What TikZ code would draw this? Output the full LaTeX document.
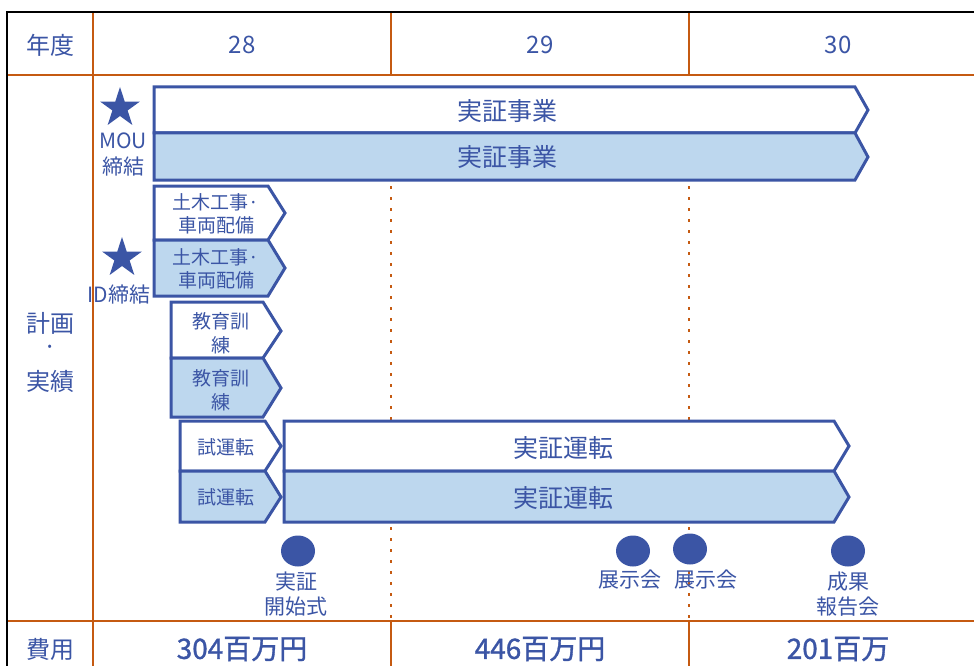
\documentclass[tikz,border=0pt]{standalone}
\usepackage{fontspec}
\setmainfont{Noto Sans CJK JP}
\newfontfamily\costfont[FakeBold=1.2]{Noto Sans CJK JP}
\usetikzlibrary{shapes.geometric}
\definecolor{tblue}{RGB}{59,85,165}
\definecolor{lblue}{RGB}{189,215,238}
\definecolor{torange}{RGB}{197,90,17}
\newcommand{\fsz}[2]{\fontsize{#1}{#2}\selectfont}
\tikzset{
  barw/.style={draw=tblue, line width=3pt, fill=white, line join=miter},
  barb/.style={barw, fill=lblue},
  lbl/.style={text=tblue, inner sep=0pt, align=center},
  gridline/.style={draw=torange, line width=2.5pt},
  dotline/.style={draw=torange, line width=2.5pt, dash pattern=on 2.5pt off 8.5pt},
  mstar/.style={star, star points=5, star point ratio=2.618, fill=tblue, inner sep=0pt, minimum size=42pt},
  evdot/.style={ellipse, fill=tblue, minimum width=34pt, minimum height=31pt, inner sep=0pt},
}
\begin{document}
\begin{tikzpicture}[x=1pt,y=-1pt]
\useasboundingbox (0,0) rectangle (974,666);
% grid
\draw[dotline] (391,186) -- (391,620);
\draw[dotline] (689,186) -- (689,620);
\draw[gridline] (93,12) -- (93,666);
\draw[gridline] (7,75) -- (974,75);
\draw[gridline] (7,621) -- (974,621);
\draw[gridline] (391,12) -- (391,76);
\draw[gridline] (689,12) -- (689,76);
\draw[gridline] (391,620) -- (391,666);
\draw[gridline] (689,620) -- (689,666);
\draw[black, line width=2pt] (7,666) -- (7,12) -- (974,12);
% header
\node[lbl, font=\fsz{24}{28}] (nendo) at (50,45) {年度};
\node[lbl, font=\fsz{24}{28}] (y28) at (242,45) {28};
\node[lbl, font=\fsz{24}{28}] (y29) at (540,45) {29};
\node[lbl, font=\fsz{24}{28}] (y30) at (838,45) {30};
% left column
\node[lbl, font=\fsz{24}{28}] (keikaku) at (50,323) {計画};
\node[lbl, font=\fsz{24}{28}] (nakaguro) at (50,350) {·};
\node[lbl, font=\fsz{24}{28}] (jisseki) at (50,381) {実績};
\node[lbl, font=\fsz{24}{28}] (hiyou) at (50,649) {費用};
% costs
\node[lbl, font=\costfont\fsz{28}{32}] (c28) at (242,649) {304百万円};
\node[lbl, font=\costfont\fsz{28}{32}] (c29) at (540,649) {446百万円};
\node[lbl, font=\costfont\fsz{28}{32}] (c30) at (838,649) {201百万};
% bars
\draw[barw] (154,87) -- (855,87) -- (868,110) -- (855,133) -- (154,133) -- cycle;
\draw[barb] (154,133) -- (855,133) -- (868,157) -- (855,180) -- (154,180) -- cycle;
\node[lbl, font=\fsz{25}{28}] (jigyo1) at (507,111) {実証事業};
\node[lbl, font=\fsz{25}{28}] (jigyo2) at (507,157) {実証事業};
\draw[barw] (154,186) -- (268,186) -- (285,213) -- (268,240) -- (154,240) -- cycle;
\draw[barb] (154,240) -- (268,240) -- (285,268) -- (268,296) -- (154,296) -- cycle;
\node[lbl, font=\fsz{19}{23}] (doboku1) at (216,214) {土木工事·\\車両配備};
\node[lbl, font=\fsz{19}{23}] (doboku2) at (216,269) {土木工事·\\車両配備};
\draw[barw] (171,302) -- (263,302) -- (281,331) -- (263,358) -- (171,358) -- cycle;
\draw[barb] (171,358) -- (263,358) -- (281,388) -- (263,417) -- (171,417) -- cycle;
\node[lbl, font=\fsz{19}{24}] (kyoiku1) at (221,333) {教育訓\\練};
\node[lbl, font=\fsz{19}{24}] (kyoiku2) at (221,390) {教育訓\\練};
\draw[barw] (180,421) -- (265,421) -- (281,446) -- (265,471) -- (180,471) -- cycle;
\draw[barb] (180,471) -- (265,471) -- (281,497) -- (265,522) -- (180,522) -- cycle;
\node[lbl, font=\fsz{19}{23}] (shiunten1) at (226,447) {試運転};
\node[lbl, font=\fsz{19}{23}] (shiunten2) at (226,497) {試運転};
\draw[barw] (284,421) -- (834,421) -- (849,446) -- (834,471) -- (284,471) -- cycle;
\draw[barb] (284,471) -- (834,471) -- (849,497) -- (834,522) -- (284,522) -- cycle;
\node[lbl, font=\fsz{25}{28}] (unten1) at (563,448) {実証運転};
\node[lbl, font=\fsz{25}{28}] (unten2) at (563,498) {実証運転};
% stars
\node[mstar] (star1) at (120,108) {};
\node[lbl, font=\fsz{21}{26}] (mou) at (123,155) {MOU\\締結};
\node[mstar] (star2) at (122,258) {};
\node[lbl, font=\fsz{21}{26}] (id) at (119,295) {ID締結};
% events
\node[evdot] (ev1) at (298,551) {};
\node[lbl, font=\fsz{21}{25}] (ev1l) at (296,594) {実証\\開始式};
\node[evdot] (ev2) at (633,551) {};
\node[lbl, font=\fsz{21}{25}] (ev2l) at (630,580) {展示会};
\node[evdot] (ev3) at (690,549) {};
\node[lbl, font=\fsz{21}{25}] (ev3l) at (706,580) {展示会};
\node[evdot] (ev4) at (848,551) {};
\node[lbl, font=\fsz{21}{25}] (ev4l) at (848,594) {成果\\報告会};
\end{tikzpicture}
\end{document}
